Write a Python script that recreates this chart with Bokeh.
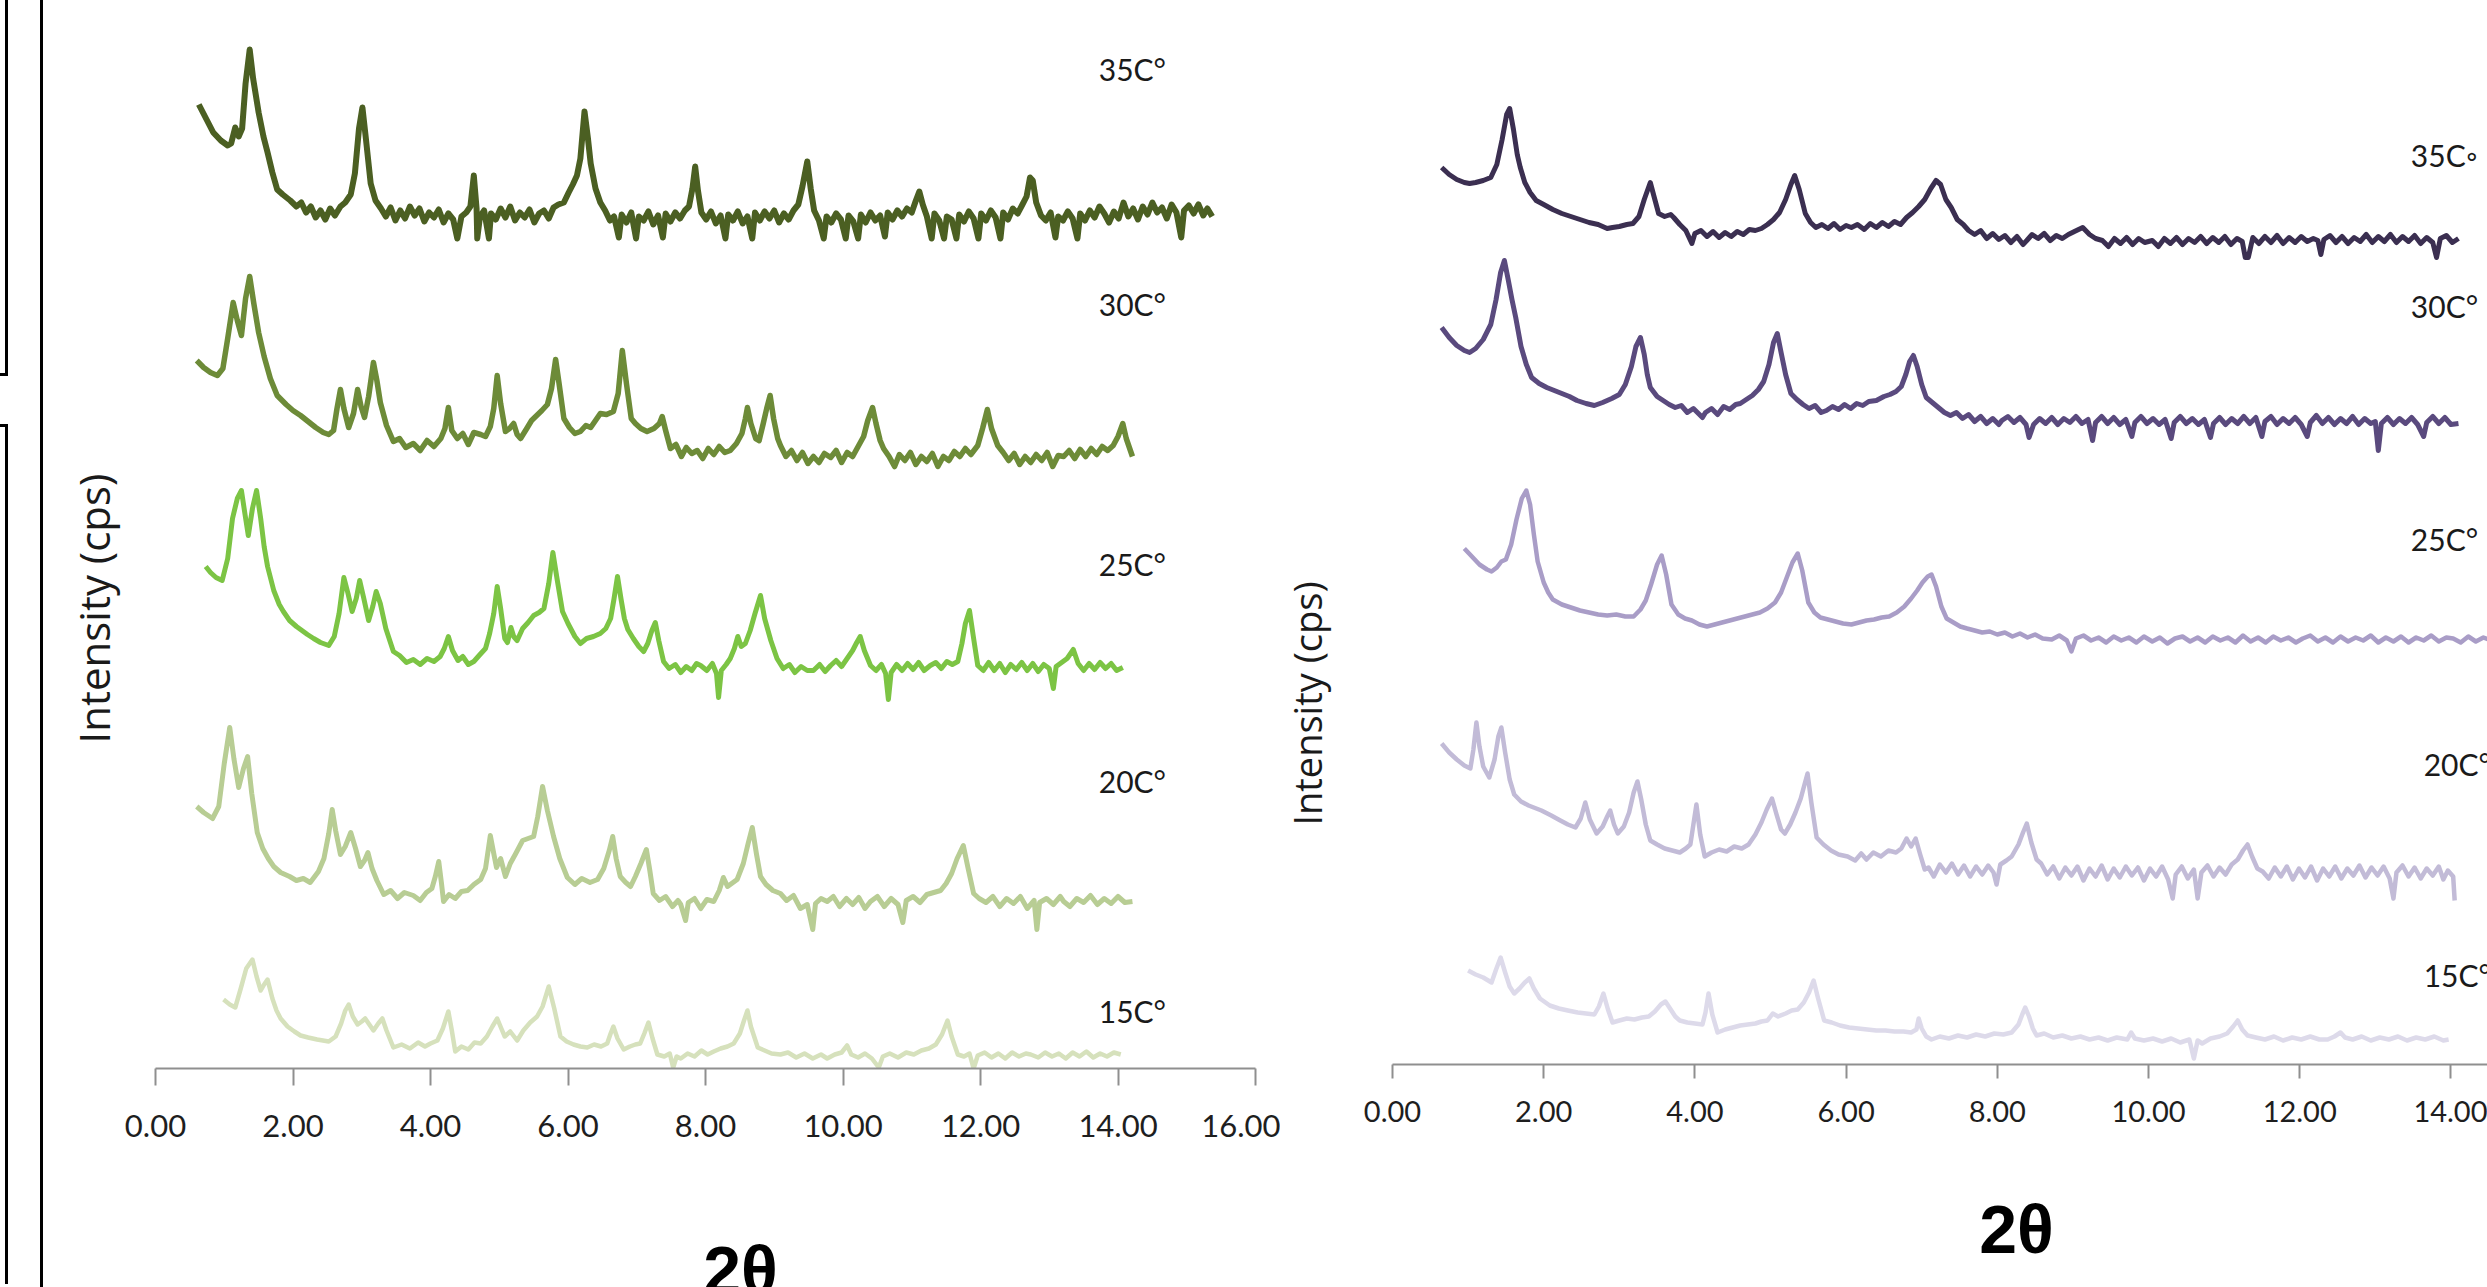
import math
from bokeh.plotting import figure
from bokeh.models import Range1d, FixedTicker, NumeralTickFormatter, Label, Div, ColumnDataSource
from bokeh.layouts import row, column
from bokeh.embed import file_html
from bokeh.resources import INLINE
from bokeh.core.properties import value
from bokeh.core.validation import silence
from bokeh.core.validation.warnings import MISSING_RENDERERS

silence(MISSING_RENDERERS, True)

# ---------------- data (2theta, intensity in arbitrary offset units) ----------------
left_ticks = [0, 2, 4, 6, 8, 10, 12, 14, 16]
right_ticks = [0, 2, 4, 6, 8, 10, 12, 14]
left_names = ["35C°", "30C°", "25C°", "20C°", "15C°"]
right_names = ["35C◦", "30C°", "25C°", "20C°", "15C°"]

left_35C = [(0.63,964),(0.72,952),(0.84,936),(0.95,928),(1.05,923),(1.10,925),(1.16,941),(1.21,932),(1.26,940),(1.31,985),(1.37,1019),(1.42,990),(1.50,956),(1.57,932),(1.63,916),(1.70,896),(1.77,879),(1.85,874),(1.96,868),(2.05,862),(2.12,866),(2.19,856),(2.26,862),(2.33,851),(2.40,858),(2.47,849),(2.54,860),(2.61,853),(2.69,862),(2.76,866),(2.84,874),(2.90,895),(2.96,940),(3.01,961),(3.06,930),(3.13,885),(3.20,868),(3.28,860),(3.35,852),(3.42,861),(3.49,848),(3.56,858),(3.63,850),(3.70,862),(3.77,853),(3.84,860),(3.91,847),(3.98,856),(4.05,851),(4.12,859),(4.19,846),(4.26,855),(4.33,849),(4.39,830),(4.45,852),(4.52,856),(4.58,862),(4.63,893),(4.67,860),(4.68,830),(4.72,852),(4.78,858),(4.85,830),(4.88,855),(4.95,849),(5.02,860),(5.09,851),(5.16,862),(5.23,848),(5.30,856),(5.37,851),(5.44,859),(5.51,846),(5.58,855),(5.65,858),(5.72,850),(5.79,861),(5.86,864),(5.94,866),(6.01,876),(6.07,884),(6.13,893),(6.18,910),(6.24,957),(6.29,930),(6.33,905),(6.40,880),(6.47,866),(6.54,858),(6.61,848),(6.67,852),(6.74,831),(6.78,854),(6.85,846),(6.92,856),(6.99,830),(7.03,852),(7.10,848),(7.17,857),(7.24,844),(7.31,853),(7.38,831),(7.42,855),(7.49,847),(7.56,856),(7.63,850),(7.70,858),(7.76,862),(7.81,880),(7.85,902),(7.89,878),(7.94,856),(8.01,849),(8.08,857),(8.15,845),(8.22,853),(8.29,830),(8.33,854),(8.40,848),(8.47,857),(8.54,845),(8.61,852),(8.68,830),(8.72,856),(8.79,848),(8.86,857),(8.93,850),(9.00,858),(9.07,846),(9.14,855),(9.21,849),(9.28,858),(9.35,864),(9.41,882),(9.48,907),(9.53,880),(9.58,858),(9.65,848),(9.72,830),(9.76,852),(9.83,846),(9.90,855),(9.97,849),(10.04,830),(10.08,853),(10.15,847),(10.22,830),(10.26,854),(10.33,846),(10.40,856),(10.47,848),(10.54,853),(10.61,832),(10.65,856),(10.72,849),(10.79,858),(10.86,852),(10.93,860),(11.00,856),(11.06,868),(11.11,877),(11.16,864),(11.22,852),(11.29,830),(11.33,855),(11.40,848),(11.47,830),(11.51,852),(11.58,849),(11.65,830),(11.69,854),(11.76,847),(11.83,857),(11.90,850),(11.97,830),(12.01,855),(12.08,848),(12.15,858),(12.22,851),(12.29,830),(12.33,856),(12.40,849),(12.47,860),(12.54,855),(12.61,864),(12.67,872),(12.72,891),(12.76,888),(12.81,866),(12.88,853),(12.95,848),(13.02,856),(13.09,831),(13.13,852),(13.20,848),(13.27,857),(13.34,850),(13.41,830),(13.45,855),(13.52,848),(13.59,858),(13.66,851),(13.73,862),(13.80,855),(13.87,846),(13.94,857),(14.01,850),(14.08,866),(14.15,852),(14.22,860),(14.29,849),(14.36,862),(14.43,854),(14.50,866),(14.57,856),(14.64,861),(14.71,850),(14.78,864),(14.85,856),(14.92,831),(14.96,858),(15.03,863),(15.10,855),(15.17,864),(15.24,853),(15.30,860),(15.37,852)]

left_30C = [(0.60,708),(0.70,701),(0.80,696),(0.90,693),(0.98,700),(1.05,730),(1.13,766),(1.19,748),(1.25,733),(1.31,770),(1.37,792),(1.43,765),(1.50,736),(1.58,712),(1.67,690),(1.77,673),(1.90,664),(2.00,658),(2.11,653),(2.22,647),(2.33,641),(2.44,636),(2.52,634),(2.59,638),(2.64,660),(2.69,679),(2.74,660),(2.81,641),(2.88,655),(2.94,679),(2.99,662),(3.04,651),(3.10,672),(3.17,706),(3.22,688),(3.27,666),(3.36,643),(3.46,627),(3.55,630),(3.64,621),(3.75,625),(3.85,618),(3.95,628),(4.05,622),(4.15,630),(4.21,640),(4.26,661),(4.31,638),(4.39,630),(4.47,635),(4.55,624),(4.63,636),(4.73,634),(4.80,632),(4.87,642),(4.92,660),(4.97,693),(5.02,665),(5.09,637),(5.15,640),(5.21,645),(5.26,634),(5.31,630),(5.40,640),(5.47,648),(5.53,652),(5.62,658),(5.70,664),(5.76,680),(5.82,709),(5.87,685),(5.94,650),(6.02,641),(6.10,635),(6.18,637),(6.26,643),(6.33,641),(6.40,648),(6.47,655),(6.56,654),(6.66,657),(6.73,675),(6.79,718),(6.85,685),(6.92,650),(6.98,645),(7.06,640),(7.15,637),(7.25,640),(7.33,645),(7.37,652),(7.42,638),(7.49,620),(7.57,624),(7.65,612),(7.72,621),(7.80,615),(7.88,618),(7.96,610),(8.04,620),(8.12,614),(8.20,622),(8.28,616),(8.36,618),(8.45,625),(8.53,635),(8.58,650),(8.61,661),(8.66,645),(8.73,630),(8.78,628),(8.84,645),(8.89,660),(8.94,673),(8.99,650),(9.05,630),(9.09,623),(9.17,612),(9.25,618),(9.33,608),(9.41,616),(9.49,605),(9.57,612),(9.65,606),(9.73,615),(9.82,611),(9.90,618),(9.98,606),(10.06,616),(10.14,612),(10.22,622),(10.30,632),(10.36,648),(10.43,661),(10.48,645),(10.54,628),(10.59,620),(10.67,612),(10.75,602),(10.82,614),(10.90,608),(10.98,616),(11.06,604),(11.14,612),(11.22,607),(11.30,615),(11.38,602),(11.46,612),(11.54,608),(11.62,617),(11.70,612),(11.78,620),(11.86,614),(11.96,623),(12.03,640),(12.10,659),(12.16,640),(12.25,623),(12.33,616),(12.41,608),(12.49,615),(12.57,604),(12.65,612),(12.73,606),(12.81,614),(12.89,608),(12.97,616),(13.05,602),(13.13,613),(13.21,612),(13.29,618),(13.37,610),(13.45,619),(13.53,612),(13.61,620),(13.69,614),(13.77,622),(13.85,618),(13.93,623),(14.00,632),(14.07,645),(14.12,630),(14.17,620),(14.21,612)]

left_25C = [(0.73,502),(0.80,496),(0.88,491),(0.97,488),(1.05,510),(1.12,550),(1.19,570),(1.25,578),(1.30,555),(1.35,533),(1.41,560),(1.47,578),(1.53,550),(1.58,522),(1.63,502),(1.72,478),(1.80,464),(1.86,457),(1.95,448),(2.05,442),(2.13,438),(2.21,434),(2.30,430),(2.40,426),(2.52,423),(2.60,432),(2.67,455),(2.74,491),(2.80,475),(2.86,457),(2.92,470),(2.97,488),(3.03,470),(3.10,448),(3.16,462),(3.21,477),(3.27,465),(3.35,440),(3.46,417),(3.55,413),(3.65,406),(3.75,409),(3.85,404),(3.95,410),(4.05,407),(4.14,412),(4.20,420),(4.26,432),(4.32,418),(4.40,408),(4.47,412),(4.55,404),(4.63,407),(4.72,414),(4.80,420),(4.86,435),(4.92,455),(4.97,482),(5.02,460),(5.08,430),(5.12,426),(5.17,441),(5.21,432),(5.26,428),(5.34,440),(5.42,446),(5.50,453),(5.58,456),(5.65,460),(5.72,485),(5.78,516),(5.84,490),(5.92,457),(6.00,445),(6.10,432),(6.18,425),(6.27,430),(6.37,432),(6.47,435),(6.55,440),(6.62,450),(6.67,470),(6.72,492),(6.77,470),(6.82,450),(6.87,439),(6.95,430),(7.03,422),(7.10,417),(7.16,425),(7.22,438),(7.27,446),(7.32,428),(7.39,407),(7.47,400),(7.56,404),(7.64,396),(7.72,402),(7.80,398),(7.87,405),(7.93,403),(8.02,398),(8.10,405),(8.16,395),(8.19,371),(8.23,398),(8.30,404),(8.36,410),(8.42,420),(8.47,432),(8.52,422),(8.58,425),(8.65,438),(8.72,455),(8.80,473),(8.86,450),(8.95,428),(9.04,410),(9.13,400),(9.22,404),(9.30,396),(9.39,402),(9.48,398),(9.57,398),(9.66,404),(9.74,397),(9.82,403),(9.90,408),(9.98,402),(10.06,410),(10.14,418),(10.20,426),(10.25,432),(10.31,418),(10.40,403),(10.48,398),(10.56,404),(10.62,395),(10.66,369),(10.70,396),(10.78,404),(10.86,398),(10.94,405),(11.02,399),(11.10,406),(11.18,398),(11.27,403),(11.35,406),(11.43,400),(11.51,407),(11.59,404),(11.67,407),(11.73,425),(11.78,445),(11.84,458),(11.90,430),(11.96,403),(12.04,398),(12.12,406),(12.20,398),(12.28,405),(12.36,396),(12.44,404),(12.52,399),(12.60,406),(12.68,398),(12.76,405),(12.84,397),(12.92,404),(13.00,400),(13.06,380),(13.10,402),(13.18,406),(13.26,410),(13.35,419),(13.42,405),(13.50,398),(13.58,405),(13.66,399),(13.74,406),(13.82,400),(13.90,405),(13.98,398),(14.07,401)]

left_20C = [(0.60,262),(0.70,256),(0.83,250),(0.92,262),(1.00,305),(1.08,341),(1.14,310),(1.21,281),(1.28,300),(1.34,312),(1.40,275),(1.48,236),(1.56,220),(1.64,210),(1.72,202),(1.82,196),(1.95,192),(2.05,188),(2.15,190),(2.25,186),(2.37,197),(2.45,210),(2.52,235),(2.57,259),(2.62,238),(2.69,214),(2.76,222),(2.84,236),(2.91,220),(2.98,202),(3.04,208),(3.09,216),(3.15,200),(3.22,188),(3.32,174),(3.42,178),(3.52,170),(3.62,176),(3.75,173),(3.85,168),(3.94,176),(4.02,180),(4.07,192),(4.12,207),(4.16,185),(4.19,167),(4.27,174),(4.36,170),(4.45,177),(4.54,178),(4.63,184),(4.73,189),(4.80,200),(4.87,233),(4.92,215),(4.96,201),(5.02,210),(5.09,192),(5.16,205),(5.24,215),(5.34,228),(5.42,230),(5.50,232),(5.56,252),(5.63,282),(5.70,258),(5.79,232),(5.88,210),(5.99,191),(6.10,184),(6.20,190),(6.32,186),(6.43,189),(6.52,200),(6.60,218),(6.65,232),(6.70,210),(6.76,192),(6.84,186),(6.91,182),(6.98,192),(7.06,205),(7.14,219),(7.19,198),(7.24,175),(7.33,168),(7.42,172),(7.52,162),(7.60,168),(7.64,164),(7.71,148),(7.75,166),(7.84,170),(7.93,160),(8.02,169),(8.12,167),(8.20,178),(8.26,191),(8.32,182),(8.40,186),(8.46,189),(8.55,205),(8.62,225),(8.68,241),(8.74,215),(8.80,192),(8.88,184),(8.98,178),(9.09,175),(9.18,168),(9.28,173),(9.38,160),(9.48,164),(9.56,139),(9.60,165),(9.68,170),(9.77,167),(9.86,172),(9.95,162),(10.05,170),(10.14,164),(10.23,171),(10.32,160),(10.40,167),(10.50,172),(10.60,162),(10.70,170),(10.80,164),(10.87,146),(10.92,168),(11.02,172),(11.12,166),(11.22,174),(11.32,176),(11.42,178),(11.50,185),(11.58,195),(11.66,210),(11.75,223),(11.82,200),(11.90,175),(11.98,170),(12.08,166),(12.18,172),(12.28,162),(12.38,170),(12.48,165),(12.58,172),(12.68,160),(12.78,168),(12.82,139),(12.86,166),(12.96,170),(13.06,164),(13.16,172),(13.21,167),(13.30,162),(13.40,170),(13.50,166),(13.60,173),(13.70,164),(13.80,170),(13.90,165),(14.00,172),(14.10,166),(14.21,167)]

left_15C = [(0.99,69),(1.08,64),(1.16,61),(1.24,80),(1.32,100),(1.41,109),(1.47,92),(1.53,78),(1.58,84),(1.63,89),(1.70,70),(1.76,58),(1.82,50),(1.92,42),(2.02,37),(2.11,33),(2.22,31),(2.35,29),(2.52,27),(2.62,32),(2.70,45),(2.76,58),(2.81,64),(2.87,52),(2.94,44),(3.00,47),(3.05,50),(3.11,44),(3.17,38),(3.24,45),(3.30,50),(3.36,38),(3.46,21),(3.58,24),(3.70,20),(3.82,26),(3.92,22),(4.00,25),(4.10,28),(4.18,40),(4.26,57),(4.31,38),(4.36,17),(4.45,22),(4.55,19),(4.64,26),(4.73,25),(4.82,32),(4.90,42),(4.97,50),(5.03,40),(5.08,32),(5.16,37),(5.26,28),(5.35,38),(5.45,46),(5.55,52),(5.63,62),(5.72,82),(5.80,60),(5.89,32),(5.98,27),(6.08,24),(6.18,22),(6.28,21),(6.38,24),(6.48,22),(6.57,25),(6.62,35),(6.66,42),(6.72,30),(6.81,19),(6.90,22),(6.98,24),(7.05,25),(7.11,35),(7.17,46),(7.23,30),(7.30,14),(7.40,12),(7.48,15),(7.53,1),(7.58,12),(7.64,10),(7.74,15),(7.84,12),(7.94,18),(8.03,14),(8.12,17),(8.22,20),(8.32,22),(8.41,25),(8.50,35),(8.56,48),(8.61,58),(8.66,42),(8.76,21),(8.86,18),(8.96,15),(9.09,14),(9.20,16),(9.32,11),(9.44,15),(9.56,10),(9.68,14),(9.77,10),(9.88,14),(9.98,16),(10.06,23),(10.12,14),(10.22,11),(10.32,15),(10.42,10),(10.52,1),(10.58,12),(10.68,15),(10.80,11),(10.92,16),(11.03,14),(11.14,18),(11.25,20),(11.35,24),(11.44,34),(11.52,48),(11.58,32),(11.67,14),(11.76,12),(11.84,15),(11.90,0),(11.96,13),(12.06,16),(12.16,11),(12.26,15),(12.36,10),(12.46,16),(12.56,12),(12.66,15),(12.73,14),(12.84,11),(12.94,16),(13.04,12),(13.14,15),(13.24,10),(13.34,16),(13.44,12),(13.54,17),(13.64,11),(13.74,15),(13.84,12),(13.94,16),(14.04,14)]

right_35C = [(0.65,897),(0.75,890),(0.85,885),(0.95,882),(1.02,881),(1.10,882),(1.20,884),(1.30,887),(1.38,900),(1.45,925),(1.51,950),(1.55,956),(1.60,935),(1.65,910),(1.69,897),(1.75,882),(1.82,872),(1.90,864),(2.00,860),(2.12,855),(2.24,851),(2.36,848),(2.48,845),(2.60,842),(2.72,840),(2.84,836),(2.91,837),(3.00,838),(3.10,840),(3.18,841),(3.26,848),(3.33,865),(3.41,882),(3.47,865),(3.52,851),(3.60,848),(3.68,850),(3.72,847),(3.80,840),(3.88,834),(3.96,821),(4.00,831),(4.08,834),(4.16,828),(4.24,833),(4.32,827),(4.40,832),(4.48,828),(4.56,833),(4.64,830),(4.72,835),(4.80,834),(4.88,836),(4.96,840),(5.04,845),(5.12,852),(5.20,865),(5.27,880),(5.32,889),(5.38,875),(5.46,851),(5.53,842),(5.60,837),(5.68,840),(5.76,836),(5.84,841),(5.92,835),(6.00,839),(6.07,837),(6.15,840),(6.24,835),(6.32,841),(6.40,837),(6.48,842),(6.56,838),(6.64,843),(6.72,840),(6.80,847),(6.88,852),(6.96,858),(7.04,865),(7.12,876),(7.19,884),(7.25,880),(7.32,865),(7.39,857),(7.47,845),(7.55,840),(7.62,834),(7.70,830),(7.78,834),(7.86,826),(7.94,831),(8.02,825),(8.10,829),(8.18,822),(8.26,828),(8.34,820),(8.39,824),(8.46,830),(8.54,826),(8.62,831),(8.70,824),(8.78,829),(8.86,826),(8.94,830),(9.02,833),(9.13,837),(9.22,830),(9.30,826),(9.39,824),(9.47,818),(9.55,826),(9.63,821),(9.71,827),(9.79,820),(9.87,826),(9.95,822),(10.05,824),(10.13,818),(10.21,826),(10.29,821),(10.37,827),(10.45,820),(10.53,826),(10.61,822),(10.69,828),(10.77,821),(10.85,827),(10.93,822),(11.01,828),(11.09,820),(11.17,826),(11.24,823),(11.28,807),(11.32,807),(11.38,827),(11.46,821),(11.54,828),(11.62,822),(11.70,829),(11.78,821),(11.86,827),(11.94,822),(12.02,828),(12.10,823),(12.18,826),(12.24,824),(12.28,810),(12.32,825),(12.40,829),(12.48,822),(12.56,828),(12.64,821),(12.72,827),(12.80,823),(12.88,830),(12.96,822),(13.04,828),(13.12,823),(13.20,830),(13.28,822),(13.36,828),(13.44,823),(13.52,829),(13.60,821),(13.68,827),(13.76,822),(13.81,807),(13.86,826),(13.94,829),(14.02,822),(14.10,826)]

right_30C = [(0.65,737),(0.75,727),(0.85,719),(0.95,714),(1.02,712),(1.10,716),(1.20,725),(1.30,740),(1.37,765),(1.43,792),(1.48,804),(1.53,785),(1.58,765),(1.63,747),(1.70,718),(1.77,700),(1.84,687),(1.94,681),(2.04,677),(2.14,674),(2.24,671),(2.34,668),(2.44,664),(2.56,661),(2.67,659),(2.78,662),(2.90,666),(3.00,670),(3.08,680),(3.16,698),(3.22,718),(3.28,727),(3.33,710),(3.37,690),(3.41,677),(3.50,668),(3.58,664),(3.66,660),(3.74,657),(3.82,659),(3.90,652),(3.98,656),(4.06,650),(4.10,647),(4.14,652),(4.22,656),(4.30,650),(4.38,658),(4.46,655),(4.54,660),(4.60,661),(4.68,665),(4.76,669),(4.84,675),(4.91,683),(4.98,700),(5.04,722),(5.09,731),(5.14,712),(5.20,690),(5.27,671),(5.35,665),(5.43,660),(5.51,656),(5.59,659),(5.67,652),(5.74,654),(5.82,658),(5.90,655),(5.98,660),(6.06,656),(6.14,661),(6.22,659),(6.30,663),(6.40,664),(6.50,668),(6.58,670),(6.66,673),(6.73,678),(6.79,690),(6.84,703),(6.89,709),(6.94,698),(7.00,680),(7.06,667),(7.14,662),(7.22,657),(7.30,652),(7.38,649),(7.46,652),(7.54,646),(7.62,650),(7.70,643),(7.78,648),(7.86,641),(7.94,646),(8.02,640),(8.06,644),(8.14,648),(8.22,642),(8.30,647),(8.38,640),(8.42,627),(8.48,640),(8.56,646),(8.64,641),(8.72,647),(8.80,640),(8.88,646),(8.96,642),(9.04,648),(9.12,641),(9.20,645),(9.26,624),(9.30,642),(9.38,648),(9.46,641),(9.54,647),(9.62,640),(9.70,645),(9.78,628),(9.82,642),(9.90,648),(9.98,641),(10.06,646),(10.14,640),(10.22,645),(10.30,626),(10.34,642),(10.42,648),(10.50,641),(10.58,646),(10.66,640),(10.74,645),(10.82,627),(10.86,641),(10.94,647),(11.02,640),(11.10,646),(11.18,641),(11.26,648),(11.34,641),(11.42,647),(11.50,628),(11.54,643),(11.62,648),(11.70,640),(11.78,646),(11.86,641),(11.94,647),(12.02,640),(12.10,628),(12.14,642),(12.22,649),(12.30,641),(12.38,647),(12.46,640),(12.54,646),(12.62,641),(12.70,648),(12.78,640),(12.86,646),(12.94,641),(13.00,643),(13.04,614),(13.08,641),(13.16,647),(13.24,640),(13.32,646),(13.40,641),(13.48,647),(13.56,640),(13.64,628),(13.68,642),(13.76,648),(13.84,641),(13.92,647),(14.00,640),(14.10,641)]

right_25C = [(0.95,516),(1.05,508),(1.15,500),(1.25,495),(1.31,493),(1.38,497),(1.44,503),(1.50,505),(1.57,520),(1.64,545),(1.71,566),(1.77,574),(1.82,560),(1.87,530),(1.92,503),(2.00,482),(2.06,472),(2.12,465),(2.24,460),(2.36,457),(2.48,454),(2.60,452),(2.72,450),(2.84,449),(2.96,450),(3.08,448),(3.19,448),(3.28,455),(3.35,464),(3.42,480),(3.50,500),(3.56,509),(3.62,490),(3.69,460),(3.78,450),(3.87,446),(3.96,444),(4.06,440),(4.16,438),(4.26,440),(4.36,442),(4.46,444),(4.56,446),(4.66,448),(4.76,450),(4.86,452),(4.96,456),(5.06,462),(5.14,472),(5.22,488),(5.29,502),(5.36,511),(5.42,494),(5.50,462),(5.58,452),(5.66,447),(5.76,445),(5.86,443),(5.96,441),(6.07,440),(6.17,442),(6.27,444),(6.37,445),(6.47,447),(6.57,448),(6.67,452),(6.77,458),(6.86,466),(6.94,474),(7.01,482),(7.08,488),(7.13,490),(7.19,478),(7.26,458),(7.33,446),(7.42,442),(7.51,438),(7.60,436),(7.70,434),(7.80,432),(7.90,433),(8.00,430),(8.10,432),(8.20,428),(8.30,431),(8.40,427),(8.50,430),(8.60,426),(8.72,425),(8.82,429),(8.92,424),(8.98,413),(9.04,426),(9.14,429),(9.24,424),(9.34,427),(9.44,422),(9.54,428),(9.64,424),(9.74,427),(9.84,422),(9.94,428),(10.05,423),(10.15,427),(10.25,421),(10.35,426),(10.45,428),(10.55,423),(10.65,427),(10.75,422),(10.85,428),(10.95,424),(11.05,427),(11.15,422),(11.25,429),(11.35,423),(11.45,427),(11.55,422),(11.65,428),(11.75,424),(11.85,427),(11.95,422),(12.04,426),(12.14,429),(12.24,423),(12.34,427),(12.44,422),(12.54,428),(12.64,423),(12.74,427),(12.84,424),(12.94,429),(13.04,422),(13.14,427),(13.24,423),(13.34,428),(13.44,422),(13.54,427),(13.64,424),(13.74,429),(13.84,423),(13.94,427),(14.03,426),(14.13,422),(14.23,428),(14.33,423),(14.43,427),(14.50,425)]

right_20C = [(0.65,321),(0.75,312),(0.85,305),(0.95,299),(1.03,296),(1.07,315),(1.11,342),(1.15,318),(1.20,298),(1.28,287),(1.35,305),(1.40,328),(1.44,337),(1.49,312),(1.55,285),(1.61,270),(1.70,263),(1.80,259),(1.97,254),(2.10,249),(2.22,244),(2.32,240),(2.42,237),(2.49,246),(2.55,262),(2.61,245),(2.70,231),(2.78,238),(2.84,248),(2.88,254),(2.93,240),(2.98,231),(3.06,238),(3.13,252),(3.19,272),(3.24,283),(3.29,265),(3.35,240),(3.41,224),(3.50,220),(3.60,216),(3.70,214),(3.80,212),(3.88,216),(3.94,220),(3.98,240),(4.02,260),(4.07,230),(4.13,208),(4.22,212),(4.32,215),(4.42,213),(4.52,218),(4.62,216),(4.71,220),(4.80,230),(4.88,242),(4.95,255),(5.02,266),(5.08,250),(5.14,235),(5.19,231),(5.26,240),(5.33,252),(5.40,266),(5.45,280),(5.49,291),(5.54,262),(5.61,227),(5.70,220),(5.80,214),(5.90,210),(6.02,208),(6.12,204),(6.20,211),(6.27,205),(6.36,212),(6.46,208),(6.56,214),(6.66,212),(6.73,216),(6.80,226),(6.86,218),(6.92,226),(6.98,210),(7.04,195),(7.09,197),(7.16,188),(7.24,200),(7.32,192),(7.40,201),(7.48,190),(7.56,199),(7.64,188),(7.72,198),(7.80,190),(7.88,199),(7.95,192),(7.99,180),(8.04,200),(8.12,204),(8.19,208),(8.28,220),(8.34,232),(8.39,241),(8.45,222),(8.52,205),(8.58,201),(8.66,190),(8.74,198),(8.82,186),(8.90,197),(8.98,189),(9.06,198),(9.14,184),(9.22,196),(9.30,188),(9.38,199),(9.46,185),(9.54,196),(9.62,187),(9.70,198),(9.78,189),(9.86,197),(9.94,184),(10.02,196),(10.10,188),(10.18,198),(10.26,185),(10.32,166),(10.36,190),(10.44,198),(10.52,186),(10.60,195),(10.65,166),(10.70,192),(10.78,199),(10.86,188),(10.94,197),(11.02,190),(11.10,200),(11.18,205),(11.25,214),(11.31,220),(11.37,208),(11.44,196),(11.51,193),(11.59,186),(11.67,197),(11.75,188),(11.83,198),(11.91,185),(11.99,196),(12.07,187),(12.15,198),(12.23,184),(12.31,196),(12.39,188),(12.47,198),(12.55,186),(12.63,196),(12.71,189),(12.79,199),(12.87,187),(12.95,197),(13.03,189),(13.11,198),(13.19,186),(13.24,166),(13.28,192),(13.36,199),(13.44,188),(13.52,197),(13.60,186),(13.68,196),(13.76,189),(13.84,198),(13.90,185),(13.96,194),(14.03,188),(14.05,164)]

right_15C = [(1.00,94),(1.10,90),(1.20,87),(1.31,82),(1.37,95),(1.43,107),(1.49,92),(1.55,78),(1.61,71),(1.68,76),(1.75,82),(1.81,86),(1.87,76),(1.95,66),(2.08,59),(2.20,56),(2.32,54),(2.45,52),(2.56,51),(2.67,50),(2.73,58),(2.79,71),(2.85,55),(2.91,42),(3.00,44),(3.10,46),(3.20,45),(3.30,47),(3.39,48),(3.47,53),(3.55,60),(3.61,63),(3.68,55),(3.74,48),(3.80,44),(3.90,42),(4.00,41),(4.10,40),(4.14,52),(4.18,71),(4.23,50),(4.30,32),(4.40,35),(4.50,37),(4.60,39),(4.70,40),(4.80,41),(4.88,43),(4.96,44),(5.03,51),(5.10,48),(5.20,51),(5.28,54),(5.36,55),(5.44,62),(5.51,72),(5.57,84),(5.63,66),(5.71,44),(5.81,42),(5.92,39),(6.04,37),(6.16,36),(6.28,35),(6.40,34),(6.52,34),(6.64,33),(6.76,33),(6.86,32),(6.93,35),(6.96,46),(7.00,36),(7.06,28),(7.13,25),(7.24,28),(7.36,26),(7.48,29),(7.60,27),(7.72,30),(7.84,28),(7.96,31),(8.08,30),(8.19,32),(8.28,40),(8.33,50),(8.37,57),(8.42,48),(8.47,36),(8.52,29),(8.62,31),(8.74,27),(8.86,29),(8.98,26),(9.10,28),(9.22,25),(9.34,27),(9.46,24),(9.58,27),(9.72,25),(9.77,32),(9.82,26),(9.94,24),(10.06,26),(10.18,23),(10.30,26),(10.42,22),(10.54,25),(10.60,6),(10.65,24),(10.71,21),(10.82,26),(10.94,28),(11.04,31),(11.12,38),(11.18,44),(11.24,35),(11.31,29),(11.42,27),(11.54,25),(11.66,28),(11.78,24),(11.90,27),(12.02,25),(12.14,28),(12.26,25),(12.37,25),(12.46,28),(12.54,32),(12.60,27),(12.70,25),(12.82,28),(12.94,24),(13.06,27),(13.18,25),(13.30,28),(13.42,24),(13.54,27),(13.66,25),(13.78,28),(13.90,24),(13.97,25)]

left_series = [left_35C, left_30C, left_25C, left_20C, left_15C]
right_series = [right_35C, right_30C, right_25C, right_20C, right_15C]

# ---------------- styles / layout ----------------
left_colors = ["#4b5f22", "#6d8b38", "#7cc444", "#b8cd94", "#d6e1bc"]
right_colors = ["#3b2f51", "#5a4a7e", "#a99dc7", "#c2bbd7", "#dddaea"]
left_widths = [6, 5.5, 5, 5, 4.5]
right_widths = [5, 5, 4.5, 4.5, 4.5]
left_label_x = [13.72] * 5
left_label_y = [1000, 765, 505, 288, 58]
right_label_x = [13.47, 13.47, 13.47, 13.64, 13.64]
right_label_y = [910, 759, 526, 301, 90]

TICK_FONT = "Lato"
NAME_FONT = "Lato"


def make_panel(width, height, bottom_border, x_range, y_top, axis_bounds, ticks, tick_px, standoff, tick_len):
    p = figure(width=width, height=height, x_range=Range1d(*x_range), y_range=Range1d(0, y_top),
               output_backend="svg", toolbar_location=None, y_axis_location=None,
               min_border_left=0, min_border_right=0, min_border_top=0, min_border_bottom=bottom_border)
    p.outline_line_color = None
    p.grid.visible = False
    p.background_fill_color = "white"
    p.border_fill_color = "white"
    ax = p.xaxis[0]
    ax.bounds = axis_bounds
    ax.ticker = FixedTicker(ticks=ticks)
    ax.formatter = NumeralTickFormatter(format="0.00")
    ax.axis_line_color = "#8f8f8f"
    ax.axis_line_width = 2
    ax.major_tick_line_color = "#8f8f8f"
    ax.major_tick_line_width = 2
    ax.major_tick_out = tick_len
    ax.major_tick_in = 0
    ax.minor_tick_line_color = None
    ax.major_label_text_font = TICK_FONT
    ax.major_label_text_font_size = f"{tick_px}px"
    ax.major_label_standoff = standoff
    ax.major_label_text_color = "#1e1e1e"
    return p


def draw(p, series, colors, widths, names, lx, ly, label_px):
    for s, c, w in zip(series, colors, widths):
        xs = [pt[0] for pt in s]
        ys = [pt[1] for pt in s]
        p.line(xs, ys, line_color=c, line_width=w, line_join="round")
    src = ColumnDataSource(dict(x=lx, y=ly, text=names))
    p.text(x="x", y="y", text="text", source=src, text_font=value(NAME_FONT),
           text_font_size=value(f"{label_px}px"), text_baseline="middle", text_align="left",
           text_color="#1a1a1a")


def y_title(p, x, y, px):
    p.add_layout(Label(x=x, y=y, x_units="screen", y_units="screen", text="Intensity (cps)",
                       angle=math.pi / 2, text_align="center", text_baseline="middle",
                       text_font="Open Sans", text_font_size=f"{px}px", text_color="#1a1a1a"))


def x_title_strip(width, height, x, y):
    q = figure(width=width, height=height, x_range=Range1d(0, 1), y_range=Range1d(0, 1),
               output_backend="svg", toolbar_location=None, x_axis_location=None, y_axis_location=None,
               min_border_left=0, min_border_right=0, min_border_top=0, min_border_bottom=0)
    q.outline_line_color = None
    q.grid.visible = False
    q.background_fill_color = "white"
    q.border_fill_color = "white"
    q.add_layout(Label(x=x, y=y, x_units="screen", y_units="screen", text="2θ",
                       text_align="center", text_baseline="middle", text_font="Liberation Sans",
                       text_font_style="bold", text_font_size="68px", text_color="black"))
    return q


# left panel: page x 50..1280; 2theta 0 -> x=155, 16 -> x=1255; axis line at y=1068
pl = make_panel(1230, 1158, 90, (-1.5273, 16.3636), 1068, (0, 16), left_ticks, 31, 29, 17)
draw(pl, left_series, left_colors, left_widths, left_names, left_label_x, left_label_y, 30)
y_title(pl, 43, 460, 42)
ql = x_title_strip(1230, 129, 690, 18)

# right panel: page x 1280..2487; 2theta 0 -> x=1392; axis line at y=1064
pr = make_panel(1207, 1144, 80, (-1.4815, 14.4841), 1064, (0, 14.4841), right_ticks, 29, 22, 14)
draw(pr, right_series, right_colors, right_widths, right_names, right_label_x, right_label_y, 30)
y_title(pr, 26, 361, 38)
qr = x_title_strip(1207, 143, 736, 59)

frame_html = (
    '<div style="position:relative;width:50px;height:1287px;background:white;overflow:hidden;">'
    '<div style="position:absolute;left:0;top:0;width:8px;height:376px;'
    'border-right:3px solid #000;border-bottom:3px solid #000;"></div>'
    '<div style="position:absolute;left:0;top:424px;width:8px;height:860px;'
    'border-right:3px solid #000;border-top:3px solid #000;"></div>'
    '<div style="position:absolute;left:40px;top:0;width:0;height:1287px;'
    'border-left:3px solid #000;"></div>'
    '</div>'
)
edge = Div(text=frame_html, width=50, height=1287, margin=(0, 0, 0, 0))

layout = row(edge, column(pl, ql, spacing=0), column(pr, qr, spacing=0), spacing=0)
open("out.html", "w").write(file_html(layout, INLINE))
